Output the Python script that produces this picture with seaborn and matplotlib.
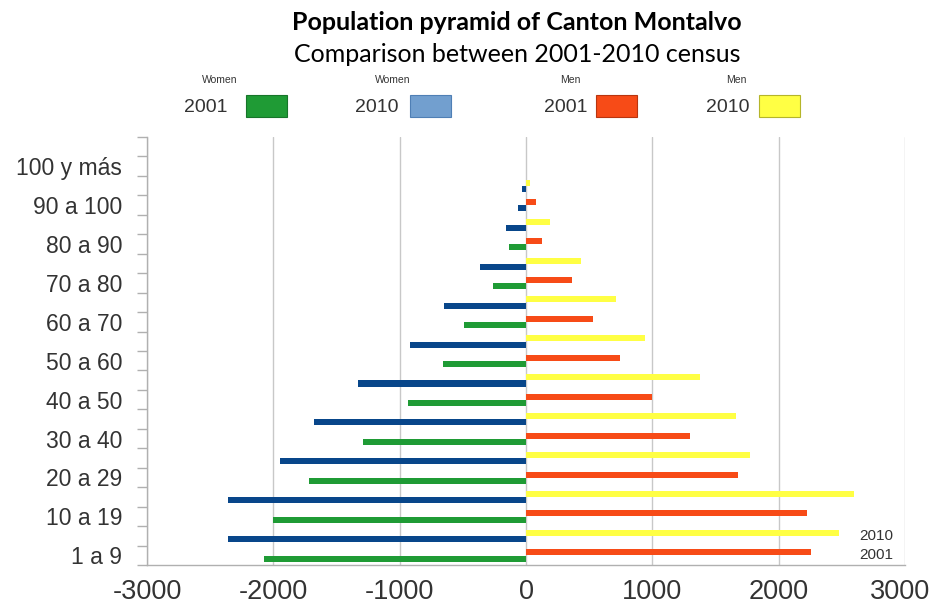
import numpy as np
import pandas as pd
import matplotlib
matplotlib.use("Agg")
import matplotlib.pyplot as plt
from matplotlib.patches import Rectangle
from matplotlib.transforms import blended_transform_factory, ScaledTranslation
import seaborn as sns

# Population of Canton Montalvo by age group, census 2001 and 2010
age_groups = ["1 a 9", "10 a 19", "20 a 29", "30 a 40", "40 a 50", "50 a 60",
              "60 a 70", "70 a 80", "80 a 90", "90 a 100", "100 y más"]
years = ["2001", "2010"]
women_2001 = [2070, 2000, 1720, 1294, 934, 655, 492, 263, 134, 63, 0]
women_2010 = [2355, 2360, 1944, 1681, 1326, 918, 650, 363, 158, 32, 0]
men_2001 = [2257, 2223, 1678, 1295, 994, 746, 529, 363, 126, 83, 0]
men_2010 = [2478, 2597, 1776, 1665, 1381, 939, 710, 434, 189, 30, 0]
x_ticks = [-3000, -2000, -1000, 0, 1000, 2000, 3000]

GREEN = "#1f9b35"
NAVY = "#08468a"
RED = "#f74b17"
YELLOW = "#ffff44"
LEGEND_BLUE = "#729fcf"
GRID = "#c8c8c8"
AXIS = "#b0b0b0"
TEXT = "#333333"

sns.set_style("white")
plt.rcParams["font.family"] = ["Liberation Sans", "DejaVu Sans"]
plt.rcParams["axes.unicode_minus"] = False

# one row per (age group, census year): 2001 below, 2010 above
records = []
women = {"2001": women_2001, "2010": women_2010}
men = {"2001": men_2001, "2010": men_2010}
for i, group in enumerate(age_groups):
    for j, year in enumerate(years):
        records.append({"row": 2 * i + j, "group": group, "year": year,
                        "women": -women[year][i], "men": men[year][i]})
df = pd.DataFrame(records)

fig = plt.figure(figsize=(9.34, 6.10), dpi=100)
ax = fig.add_axes([147 / 934, (610 - 565) / 610, (905 - 147) / 934, (565 - 137) / 610])

bar_h = 0.31
sns.barplot(data=df.assign(pos=df["row"] + 0.15), x="men", y="pos", hue="year",
            palette={"2001": RED, "2010": YELLOW}, orient="y", native_scale=True,
            dodge=False, width=bar_h, errorbar=None, legend=False, linewidth=0,
            saturation=1, ax=ax)
n_men = len(ax.patches)
sns.barplot(data=df.assign(pos=df["row"] - 0.17), x="women", y="pos", hue="year",
            palette={"2001": GREEN, "2010": NAVY}, orient="y", native_scale=True,
            dodge=False, width=bar_h, errorbar=None, legend=False, linewidth=0,
            saturation=1, ax=ax)

# the 90 a 100 (2001) women bar is shown in dark blue
row_90 = df[(df["group"] == "90 a 100") & (df["year"] == "2001")]["row"].iloc[0]
for p in ax.patches[n_men:]:
    if abs(p.get_y() + p.get_height() / 2 - (row_90 - 0.17)) < 0.05:
        p.set_facecolor(NAVY)

ax.set_xlim(x_ticks[0], x_ticks[-1])
ax.set_ylim(-0.5, len(df) - 0.5)
ax.set_xlabel("")
ax.set_ylabel("")

ax.set_xticks(x_ticks)
ax.set_xticklabels([str(v) for v in x_ticks])
ax.tick_params(axis="x", which="major", length=7, width=1, color=AXIS,
               labelsize=19.5, labelcolor=TEXT, pad=3)
# keep the right-most tick label inside the canvas
last = ax.get_xticklabels()[-1]
last.set_transform(last.get_transform() + ScaledTranslation(-5 / 100, 0, fig.dpi_scale_trans))

ax.set_yticks(np.arange(-0.5, len(df), 1))
ax.set_yticklabels([])
ax.set_yticks(np.arange(0, len(df), 2), minor=True)
ax.set_yticklabels(age_groups, minor=True)
ax.tick_params(axis="y", which="major", length=7, width=1, color=AXIS, left=True)
ax.tick_params(axis="y", which="minor", length=0, pad=18, labelsize=16.5,
               labelcolor=TEXT, left=True)

ax.xaxis.grid(True, color=GRID, linewidth=1)
ax.yaxis.grid(False)
ax.set_axisbelow(True)
for side in ["top", "right"]:
    ax.spines[side].set_visible(False)
for side in ["left", "bottom"]:
    ax.spines[side].set_color(AXIS)
    ax.spines[side].set_linewidth(1)

# year tags for the bottom rows
tr = blended_transform_factory(ax.transAxes, ax.transData)
ax.text(0.985, 1, "2010", transform=tr, ha="right", va="center", fontsize=11, color=TEXT)
ax.text(0.985, 0, "2001", transform=tr, ha="right", va="center", fontsize=11, color=TEXT)

# titles
fig.text(517 / 934, 1 - 23 / 610, "Population pyramid of Canton Montalvo",
         ha="center", va="center", fontsize=18, fontweight="bold",
         family=["Lato", "DejaVu Sans"], color="black")
fig.text(517 / 934, 1 - 54 / 610, "Comparison between 2001-2010 census",
         ha="center", va="center", fontsize=18,
         family=["Lato", "DejaVu Sans"], color="black")

# legend: small sex caption above, year and colour swatch below
legend_items = [
    ("Women", "2001", GREEN, "#17752a", 220, 206, 246),
    ("Women", "2010", LEGEND_BLUE, "#4f7fb5", 393, 377, 410),
    ("Men", "2001", RED, "#b8350f", 570, 566, 596),
    ("Men", "2010", YELLOW, "#b5b52a", 736, 728, 759),
]
for sex, year, face, edge, cap_x, year_x, sw_x in legend_items:
    fig.text(cap_x / 934, 1 - 80 / 610, sex, ha="center", va="center",
             fontsize=7.5, color=TEXT)
    fig.text(year_x / 934, 1 - 107 / 610, year, ha="center", va="center",
             fontsize=14, color=TEXT)
    fig.add_artist(Rectangle((sw_x / 934, 1 - 117 / 610), 41 / 934, 22 / 610,
                             transform=fig.transFigure, facecolor=face,
                             edgecolor=edge, linewidth=0.8))

fig.savefig("out.png", dpi=100)
